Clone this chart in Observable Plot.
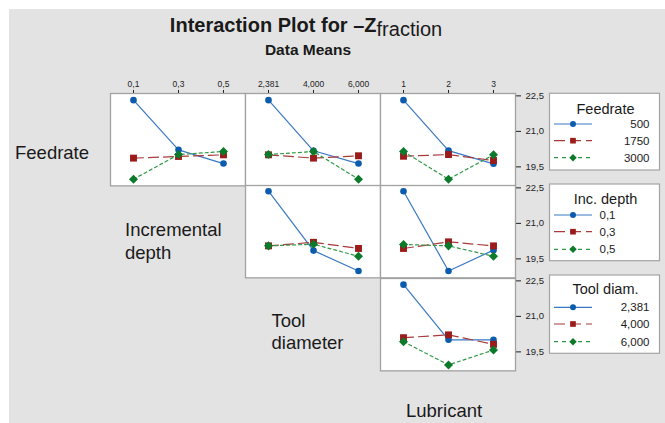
<!DOCTYPE html>
<html><head><meta charset="utf-8">
<script src="https://cdn.jsdelivr.net/npm/d3@7"></script>
<script src="https://cdn.jsdelivr.net/npm/@observablehq/plot@0.6"></script>
<style>
html,body{margin:0;padding:0;background:#fff;}
#root{position:relative;width:665px;height:423px;overflow:hidden;font-family:"Liberation Sans",Arial,sans-serif;}
#bg{position:absolute;left:9px;top:9px;right:0;bottom:0;background:#e3e3e3;}
#root svg{position:absolute;}
</style></head><body><div id="root"><div id="bg"></div></div>
<script>
// ---- data ----
const feedrates = ["500", "1750", "3000"];
const incDepths = ["0,1", "0,3", "0,5"];
const toolDiams = ["2,381", "4,000", "6,000"];
const lubricants = ["1", "2", "3"];
const yTicks = [19.5, 21.0, 22.5];

// Feedrate (series) by Inc. depth (x)
const feed_by_depth_500  = [22.32, 20.22, 19.64];
const feed_by_depth_1750 = [19.87, 19.94, 20.01];
const feed_by_depth_3000 = [18.98, 20.02, 20.15];
// Feedrate by Tool diameter
const feed_by_tool_500  = [22.32, 20.18, 19.64];
const feed_by_tool_1750 = [20.01, 19.87, 19.97];
const feed_by_tool_3000 = [20.02, 20.15, 18.98];
// Feedrate by Lubricant
const feed_by_lub_500  = [22.32, 20.19, 19.63];
const feed_by_lub_1750 = [19.95, 20.02, 19.77];
const feed_by_lub_3000 = [20.15, 18.98, 20.01];
// Inc. depth by Tool diameter
const depth_by_tool_01 = [22.36, 19.85, 18.99];
const depth_by_tool_03 = [20.05, 20.20, 19.94];
const depth_by_tool_05 = [20.05, 20.12, 19.61];
// Inc. depth by Lubricant
const depth_by_lub_01 = [22.36, 18.99, 19.87];
const depth_by_lub_03 = [19.94, 20.22, 20.05];
const depth_by_lub_05 = [20.11, 20.05, 19.61];
// Tool diameter by Lubricant
const tool_by_lub_2381 = [22.34, 20.01, 20.01];
const tool_by_lub_4000 = [20.10, 20.22, 19.82];
const tool_by_lub_6000 = [19.93, 18.95, 19.58];

// ---- layout ----
const FONT = "Liberation Sans, Arial, sans-serif";
const colLeft = [109.5, 244.5, 379.5];
const rowTop = [93, 185.33, 277.67];
const PW = 135, PH = 92.33, MT = 22, MR = 45;
const yDomain = [18.7, 22.6];
const fmt = d => d.toFixed(1).replace(".", ",");
const styles = [
  {mark: "#0c5cae", line: "#3a78c4", dash: null, symbol: "circle", r: 3.3, rotate: 0, lsym: d3.symbolCircle, lsize: 28},
  {mark: "#9b1b1b", line: "#a83a3a", dash: "10,5", symbol: "square", r: 3.9, rotate: 0, lsym: d3.symbolSquare, lsize: 32},
  {mark: "#0b7a2b", line: "#2f9a45", dash: "3,3", symbol: "square", r: 3.6, rotate: 45, lsym: d3.symbolSquare, lsize: 28}
];

const panels = [
  {row: 0, col: 0, x: incDepths, values: [feed_by_depth_500, feed_by_depth_1750, feed_by_depth_3000]},
  {row: 0, col: 1, x: toolDiams, values: [feed_by_tool_500, feed_by_tool_1750, feed_by_tool_3000]},
  {row: 0, col: 2, x: lubricants, values: [feed_by_lub_500, feed_by_lub_1750, feed_by_lub_3000]},
  {row: 1, col: 1, x: toolDiams, values: [depth_by_tool_01, depth_by_tool_03, depth_by_tool_05]},
  {row: 1, col: 2, x: lubricants, values: [depth_by_lub_01, depth_by_lub_03, depth_by_lub_05]},
  {row: 2, col: 2, x: lubricants, values: [tool_by_lub_2381, tool_by_lub_4000, tool_by_lub_6000]}
];

const root = document.getElementById("root");

for (const p of panels) {
  const marks = [Plot.frame({fill: "white", stroke: "#a2a2a2", strokeWidth: 1.3})];
  p.values.forEach((vals, i) => {
    const st = styles[i];
    const d = vals.map((v, j) => ({x: p.x[j], y: v}));
    const lineOpts = {x: "x", y: "y", stroke: st.line, strokeWidth: 1.2};
    if (st.dash) lineOpts.strokeDasharray = st.dash;
    marks.push(Plot.line(d, lineOpts));
    const dotOpts = {x: "x", y: "y", fill: st.mark, stroke: "none", symbol: st.symbol, r: st.r};
    if (st.rotate) dotOpts.rotate = st.rotate;
    marks.push(Plot.dot(d, dotOpts));
  });
  const svg = Plot.plot({
    width: PW + MR, height: PH + MT,
    marginLeft: 0, marginRight: MR, marginTop: MT, marginBottom: 0,
    style: {background: "transparent", overflow: "visible", fontFamily: FONT, fontSize: "8.5px", color: "#1e1e1e"},
    x: {type: "point", domain: p.x, padding: 0.5, axis: p.row === 0 ? "top" : null, tickSize: 4, tickPadding: 2, label: null},
    y: {domain: yDomain, axis: p.col === 2 ? "right" : null, ticks: yTicks, tickFormat: fmt, tickSize: 5, tickPadding: 5, label: null},
    marks
  });
  svg.querySelectorAll('[aria-label^="y-axis"] text').forEach(t => { t.style.fontSize = "9.5px"; });
  svg.style.left = (colLeft[p.col]) + "px";
  svg.style.top = (rowTop[p.row] - MT) + "px";
  root.appendChild(svg);
}

// ---- overlay: titles, labels, legends ----
const ov = d3.select(root).append("svg")
  .attr("width", 665).attr("height", 423)
  .style("left", "0px").style("top", "0px")
  .style("font-family", FONT).style("pointer-events", "none");

const title = ov.append("text").attr("x", 306).attr("y", 31.5).attr("text-anchor", "middle")
  .attr("font-size", 20).attr("fill", "#1a1a1a");
title.append("tspan").attr("font-weight", "bold").text("Interaction Plot for \u2013Z");
title.append("tspan").attr("dy", 4.5).text("fraction");

ov.append("text").attr("x", 308).attr("y", 55).attr("text-anchor", "middle")
  .attr("font-size", 15.5).attr("font-weight", "bold").attr("fill", "#1a1a1a").text("Data Means");

const factorLabels = [
  {lines: ["Feedrate"], x: 15, y: 158.5},
  {lines: ["Incremental", "depth"], x: 125, y: 236},
  {lines: ["Tool", "diameter"], x: 271.5, y: 326.5},
  {lines: ["Lubricant"], x: 406, y: 417}
];
for (const f of factorLabels) {
  f.lines.forEach((l, i) => {
    ov.append("text").attr("x", f.x).attr("y", f.y + i * 22.5)
      .attr("font-size", 18.5).attr("fill", "#1a1a1a").text(l);
  });
}

const legends = [
  {title: "Feedrate", items: feedrates, top: 93.3, bottom: 170, titleY: 113.5, rows: [124, 140.7, 157.7], align: "end"},
  {title: "Inc. depth", items: incDepths, top: 184, bottom: 260.7, titleY: 203.5, rows: [215, 231.7, 249.3], align: "start"},
  {title: "Tool diam.", items: toolDiams, top: 275, bottom: 353.3, titleY: 293.5, rows: [307.3, 324, 341.7], align: "end"}
];
for (const lg of legends) {
  ov.append("rect").attr("x", 549.5).attr("y", lg.top).attr("width", 110).attr("height", lg.bottom - lg.top)
    .attr("fill", "white").attr("stroke", "#a4a4a4").attr("stroke-width", 1.2);
  ov.append("text").attr("x", 605.5).attr("y", lg.titleY).attr("text-anchor", "middle")
    .attr("font-size", 14.5).attr("fill", "#1a1a1a").text(lg.title);
  lg.items.forEach((it, i) => {
    const st = styles[i], y = lg.rows[i];
    const ln = ov.append("line").attr("x1", 554).attr("x2", 592).attr("y1", y).attr("y2", y)
      .attr("stroke", st.line).attr("stroke-width", 1.2);
    if (st.dash) ln.attr("stroke-dasharray", i === 1 ? "11,5" : "4,4");
    ov.append("path").attr("d", d3.symbol(st.lsym, st.lsize)())
      .attr("transform", `translate(573,${y}) rotate(${st.rotate})`).attr("fill", st.mark);
    ov.append("text").attr("x", lg.align === "end" ? 649.5 : 599.5).attr("y", y + 4)
      .attr("text-anchor", lg.align).attr("font-size", 11.5).attr("fill", "#1a1a1a").text(it);
  });
}
</script></body></html>
